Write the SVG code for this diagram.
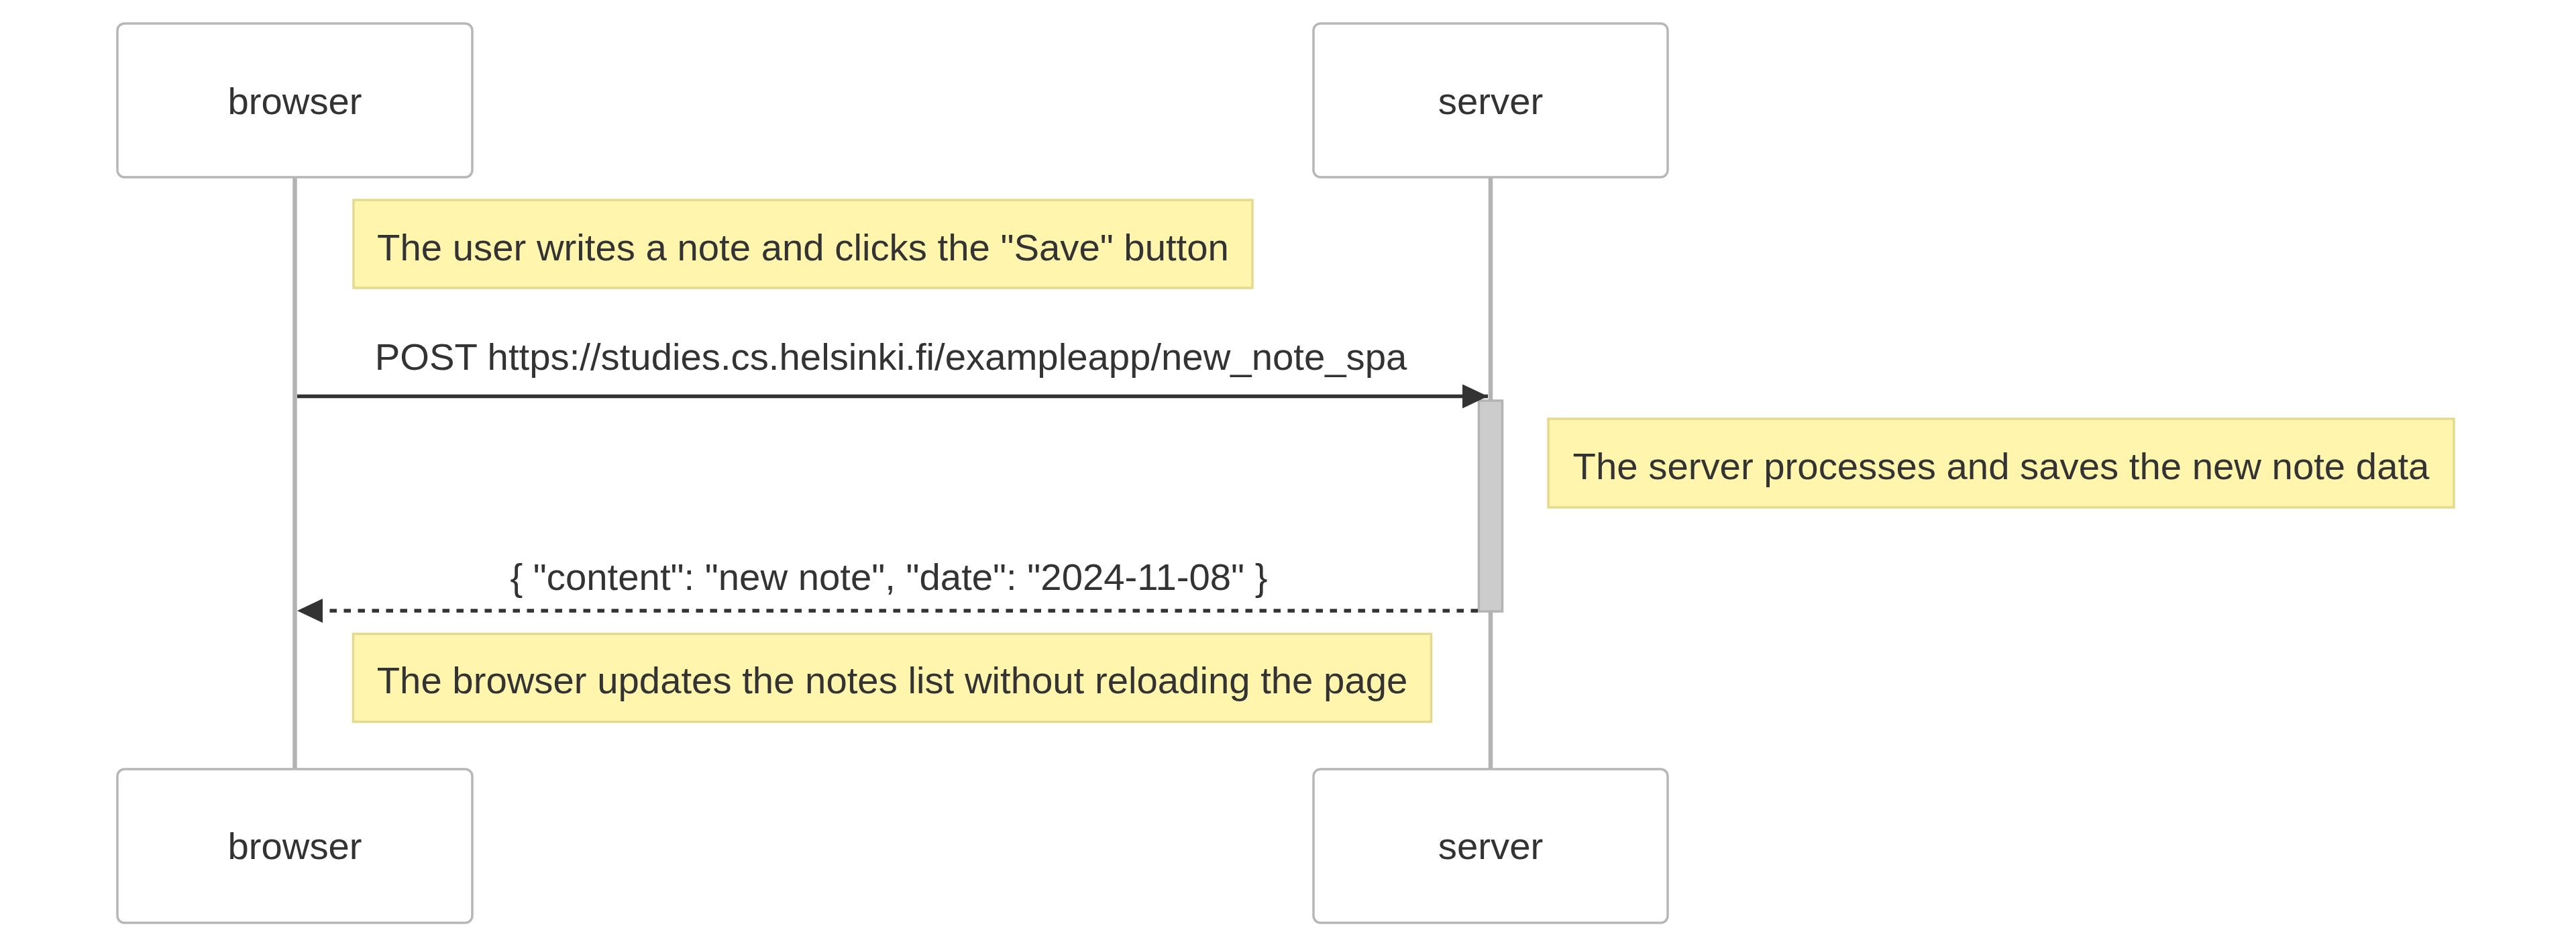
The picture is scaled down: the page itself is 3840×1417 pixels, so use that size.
<svg xmlns="http://www.w3.org/2000/svg" width="3840" height="1417" viewBox="0 0 3840 1417">
  <style>
    .actor { fill: #ffffff; stroke: #b7b7b7; stroke-width: 3.5; }
    .actor-text { font-family: "Liberation Sans", Arial, sans-serif; font-size: 56.3px; fill: #333333; text-anchor: middle; }
    .lifeline { stroke: #b3b3b3; stroke-width: 6.5; fill: none; }
    .note { fill: #fff5ad; stroke: #e3da90; stroke-width: 3.5; }
    .note-text { font-family: "Liberation Sans", Arial, sans-serif; font-size: 56.3px; fill: #333333; text-anchor: middle; }
    .msg-text { font-family: "Liberation Sans", Arial, sans-serif; font-size: 56.3px; fill: #333333; text-anchor: middle; }
    .msg { stroke: #333333; stroke-width: 5.3; fill: none; }
    .msg-dotted { stroke: #333333; stroke-width: 5.3; fill: none; stroke-dasharray: 10.5 10.5; }
    .activation { fill: #cccccc; stroke: #b3b3b3; stroke-width: 3.5; }
  </style>
  <defs>
    <marker id="arrowhead" markerUnits="userSpaceOnUse" markerWidth="40" markerHeight="38" refX="38" refY="18" orient="auto">
      <path d="M0,0 L38,18 L0,36 z" fill="#333333"/>
    </marker>
  </defs>
  <rect x="0" y="0" width="3840" height="1417" fill="#ffffff"/>

  <g id="lifelines">
    <line class="lifeline" x1="439.5" y1="264" x2="439.5" y2="1146"/>
    <line class="lifeline" x1="2222" y1="264" x2="2222" y2="1146"/>
  </g>

  <g id="actor-browser-top">
    <rect class="actor" x="175" y="35" width="529" height="229" rx="10.5" ry="10.5"/>
    <text class="actor-text" x="439.5" y="170">browser</text>
  </g>
  <g id="actor-server-top">
    <rect class="actor" x="1958" y="35" width="528" height="229" rx="10.5" ry="10.5"/>
    <text class="actor-text" x="2222" y="170">server</text>
  </g>
  <g id="actor-browser-bottom">
    <rect class="actor" x="175" y="1146" width="529" height="229" rx="10.5" ry="10.5"/>
    <text class="actor-text" x="439.5" y="1280">browser</text>
  </g>
  <g id="actor-server-bottom">
    <rect class="actor" x="1958" y="1146" width="528" height="229" rx="10.5" ry="10.5"/>
    <text class="actor-text" x="2222" y="1280">server</text>
  </g>

  <g id="activation-server">
    <rect class="activation" x="2204.5" y="597" width="35" height="314"/>
  </g>

  <g id="note-save">
    <rect class="note" x="527" y="298" width="1340" height="131"/>
    <text class="note-text" x="1197" y="388">The user writes a note and clicks the "Save" button</text>
  </g>
  <g id="note-server">
    <rect class="note" x="2308" y="624" width="1350" height="132"/>
    <text class="note-text" x="2983" y="714">The server processes and saves the new note data</text>
  </g>
  <g id="note-browser">
    <rect class="note" x="526.5" y="944.5" width="1607" height="131"/>
    <text class="note-text" x="1330" y="1033">The browser updates the notes list without reloading the page</text>
  </g>

  <g id="connectors">
    <line class="msg" x1="443" y1="590.5" x2="2218" y2="590.5" marker-end="url(#arrowhead)"/>
    <text class="msg-text" x="1328" y="551">POST https://studies.cs.helsinki.fi/exampleapp/new_note_spa</text>
    <line class="msg-dotted" x1="2203" y1="910" x2="443" y2="910" marker-end="url(#arrowhead)"/>
    <text class="msg-text" x="1325" y="879">{ "content": "new note", "date": "2024-11-08" }</text>
  </g>
</svg>
